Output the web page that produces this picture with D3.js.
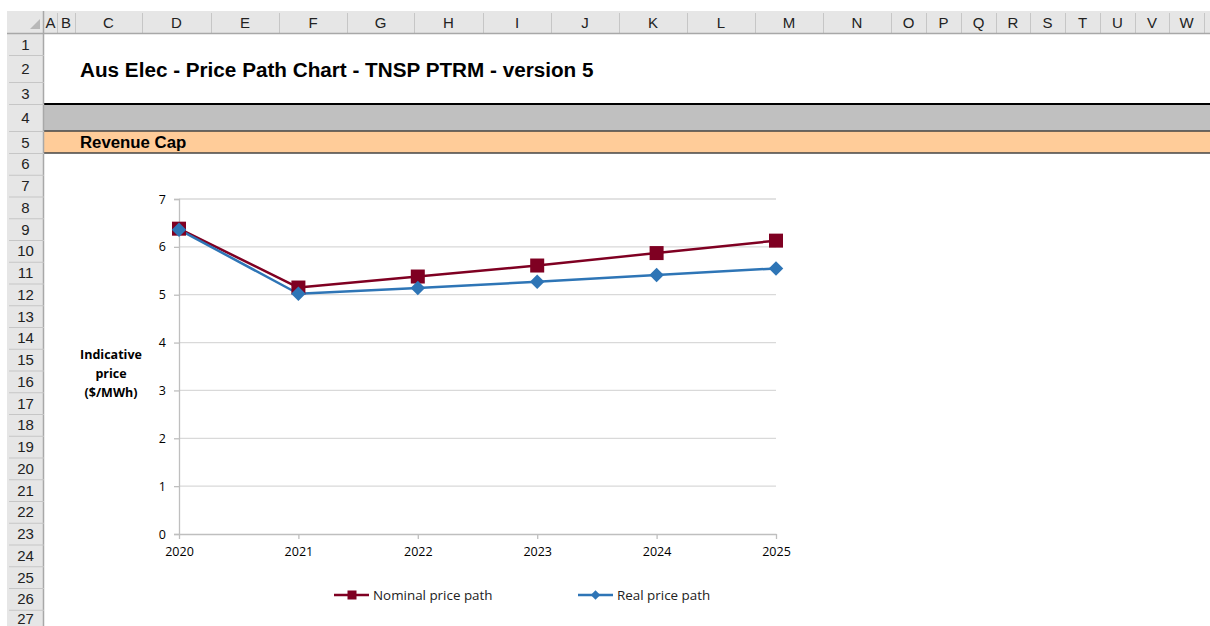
<!DOCTYPE html>
<html><head><meta charset="utf-8">
<script src="https://cdn.jsdelivr.net/npm/d3@7"></script>
<style>
html,body{margin:0;padding:0;background:#fff;overflow:hidden}
svg{display:block}
</style></head>
<body>
<svg id="s" width="1210" height="626"></svg>
<script>
// ---- data ----
const years = [2020, 2021, 2022, 2023, 2024, 2025];
const nominal = [6.38, 5.15, 5.38, 5.61, 5.87, 6.13];
const real = [6.36, 5.02, 5.14, 5.27, 5.41, 5.55];
const yTicks = [0, 1, 2, 3, 4, 5, 6, 7];
const seriesNames = ["Nominal price path", "Real price path"];
const colLetters = ["A","B","C","D","E","F","G","H","I","J","K","L","M","N","O","P","Q","R","S","T","U","V","W"];
const rowNumbers = d3.range(1, 28);
const titleText = "Aus Elec - Price Path Chart - TNSP PTRM - version 5";
const sectionText = "Revenue Cap";
const axisTitle = ["Indicative", "price", "($/MWh)"];

// ---- layout ----
const colWidths = [13,18,67,69,68,68,67,69,68,68,68,68,68,68,35,35,35,34,35,35,35,34,35];
const rowHeights = [22,27,22,27,22].concat(d3.range(22).map(()=>21.75));
const hdrX0 = 7, hdrX1 = 44, hdrY0 = 11, hdrY1 = 33;

const svg = d3.select("#s");
const hf = "'Liberation Sans', Arial, sans-serif";
const cf = "'Open Sans', 'Liberation Sans', sans-serif";

const colX = [hdrX1]; colWidths.forEach((w,i)=>colX.push(colX[i]+w));
const rowY = [hdrY1]; rowHeights.forEach((h,i)=>rowY.push(rowY[i]+h));

// band rows 4 and 5
svg.append("rect").attr("x",hdrX1).attr("y",rowY[3]).attr("width",1210-hdrX1).attr("height",rowHeights[3]).attr("fill","#c0c0c0");
svg.append("rect").attr("x",hdrX1).attr("y",rowY[4]).attr("width",1210-hdrX1).attr("height",rowHeights[4]).attr("fill","#ffcc99");
svg.append("line").attr("x1",hdrX1).attr("x2",1210).attr("y1",rowY[3]).attr("y2",rowY[3]).attr("stroke","#000").attr("stroke-width",2);
svg.append("line").attr("x1",hdrX1).attr("x2",1210).attr("y1",rowY[4]).attr("y2",rowY[4]).attr("stroke","#444").attr("stroke-width",1.5);
svg.append("line").attr("x1",hdrX1).attr("x2",1210).attr("y1",rowY[5]).attr("y2",rowY[5]).attr("stroke","#444").attr("stroke-width",1.5);

// headers
svg.append("rect").attr("x",hdrX0).attr("y",hdrY0).attr("width",1210-hdrX0).attr("height",hdrY1-hdrY0).attr("fill","#e6e6e6");
svg.append("rect").attr("x",hdrX0).attr("y",hdrY1).attr("width",hdrX1-hdrX0).attr("height",626-hdrY1).attr("fill","#e6e6e6");
svg.append("path").attr("d",`M${hdrX1-4},${hdrY1-14} L${hdrX1-4},${hdrY1-4} L${hdrX1-14},${hdrY1-4} Z`).attr("fill","#b8b8b8");
colLetters.forEach((c,i)=>{
  const x0 = colX[i], x1 = colX[i+1];
  svg.append("line").attr("x1",x1+0.5).attr("x2",x1+0.5).attr("y1",hdrY0+2).attr("y2",hdrY1).attr("stroke","#c6c6c6");
  svg.append("text").attr("x",(x0+x1)/2).attr("y",hdrY0+17).attr("text-anchor","middle")
    .attr("font-family",hf).attr("font-size",15).attr("fill","#222").text(c);
});
svg.append("line").attr("x1",hdrX0).attr("x2",1210).attr("y1",hdrY1+0.5).attr("y2",hdrY1+0.5).attr("stroke","#a8a8a8").attr("stroke-width",1.5);
svg.append("line").attr("x1",hdrX1-0.5).attr("x2",hdrX1-0.5).attr("y1",hdrY0).attr("y2",626).attr("stroke","#a8a8a8").attr("stroke-width",1.5);
rowNumbers.forEach((r,i)=>{
  const y0 = rowY[i], y1 = rowY[i+1];
  svg.append("line").attr("x1",hdrX0+2).attr("x2",hdrX1).attr("y1",y1+0.5).attr("y2",y1+0.5).attr("stroke","#c6c6c6");
  svg.append("text").attr("x",(hdrX0+hdrX1)/2).attr("y",Math.min((y0+y1)/2+5.5, 624)).attr("text-anchor","middle")
    .attr("font-family",hf).attr("font-size",15).attr("fill","#222").text(r);
});

// title & section
svg.append("text").attr("x",80).attr("y",77).attr("font-family",hf).attr("font-weight","bold").attr("font-size",20.7).attr("fill","#000").text(titleText);
svg.append("text").attr("x",80).attr("y",148).attr("font-family",hf).attr("font-weight","bold").attr("font-size",16.8).attr("fill","#000").text(sectionText);

// ---- chart ----
const x = d3.scalePoint().domain(years).range([179, 776]);
const y = d3.scaleLinear().domain([0, 7]).range([534, 199]);
const g = svg.append("g");

g.append("g").selectAll("line").data(yTicks.filter(d=>d>0)).join("line")
  .attr("x1",179).attr("x2",776).attr("y1",d=>y(d)).attr("y2",d=>y(d))
  .attr("stroke","#d9d9d9").attr("stroke-width",1.3);
const yAxis = g.append("g").attr("transform","translate(179,0)")
  .call(d3.axisLeft(y).tickValues(yTicks).tickSize(5).tickPadding(8).tickFormat(d3.format("d")));
yAxis.select(".domain").attr("stroke","#bfbfbf").attr("stroke-width",1.3);
yAxis.selectAll(".tick line").attr("stroke","#bfbfbf").attr("stroke-width",1.3);
yAxis.selectAll(".tick text").attr("font-family",cf).attr("font-size",12.5).attr("fill","#000");

const xAxis = g.append("g").attr("transform","translate(0,534)")
  .call(d3.axisBottom(x).tickSize(5).tickPadding(8).tickSizeOuter(0));
xAxis.select(".domain").attr("stroke","#bfbfbf").attr("stroke-width",1.3);
xAxis.selectAll(".tick line").attr("stroke","#bfbfbf").attr("stroke-width",1.3);
xAxis.selectAll(".tick text").attr("font-family",cf).attr("font-size",12.5).attr("fill","#000");

const at = g.append("text").attr("text-anchor","middle").attr("font-family",cf).attr("font-weight","bold").attr("font-size",12.5).attr("fill","#000");
axisTitle.forEach((t,i)=>at.append("tspan").attr("x",111).attr("y",359+i*19).text(t));

// series
const colors = ["#7f0022", "#2e75b6"];
const seriesData = [nominal, real];
const line = d3.line().x((d,i)=>x(years[i])).y(d=>y(d));
seriesData.forEach((vals,si)=>{
  g.append("path").datum(vals).attr("d",line).attr("fill","none").attr("stroke",colors[si]).attr("stroke-width",2.5).attr("stroke-linejoin","round");
});
g.append("g").selectAll("rect").data(nominal).join("rect")
  .attr("x",(d,i)=>x(years[i])-7).attr("y",d=>y(d)-7).attr("width",14).attr("height",14).attr("fill",colors[0]);
g.append("g").selectAll("path").data(real).join("path")
  .attr("transform",(d,i)=>`translate(${x(years[i])},${y(d)}) rotate(45)`)
  .attr("d",d3.symbol().type(d3.symbolSquare).size(105)).attr("fill",colors[1]);

// legend
const legend = [{x:334, name:seriesNames[0], c:colors[0], m:"sq"},{x:578, name:seriesNames[1], c:colors[1], m:"di"}];
legend.forEach(l=>{
  const lg = g.append("g").attr("transform",`translate(${l.x},595)`);
  lg.append("line").attr("x1",0).attr("x2",35).attr("y1",0).attr("y2",0).attr("stroke",l.c).attr("stroke-width",2.5);
  if (l.m==="sq") lg.append("rect").attr("x",13.5).attr("y",-4.5).attr("width",9).attr("height",9).attr("fill",l.c);
  else lg.append("path").attr("transform","translate(17.5,0) rotate(45)").attr("d",d3.symbol().type(d3.symbolSquare).size(45)).attr("fill",l.c);
  lg.append("text").attr("x",39).attr("y",4.5).attr("font-family",cf).attr("font-size",13.4).attr("fill","#222").text(l.name);
});
</script>
</body></html>
